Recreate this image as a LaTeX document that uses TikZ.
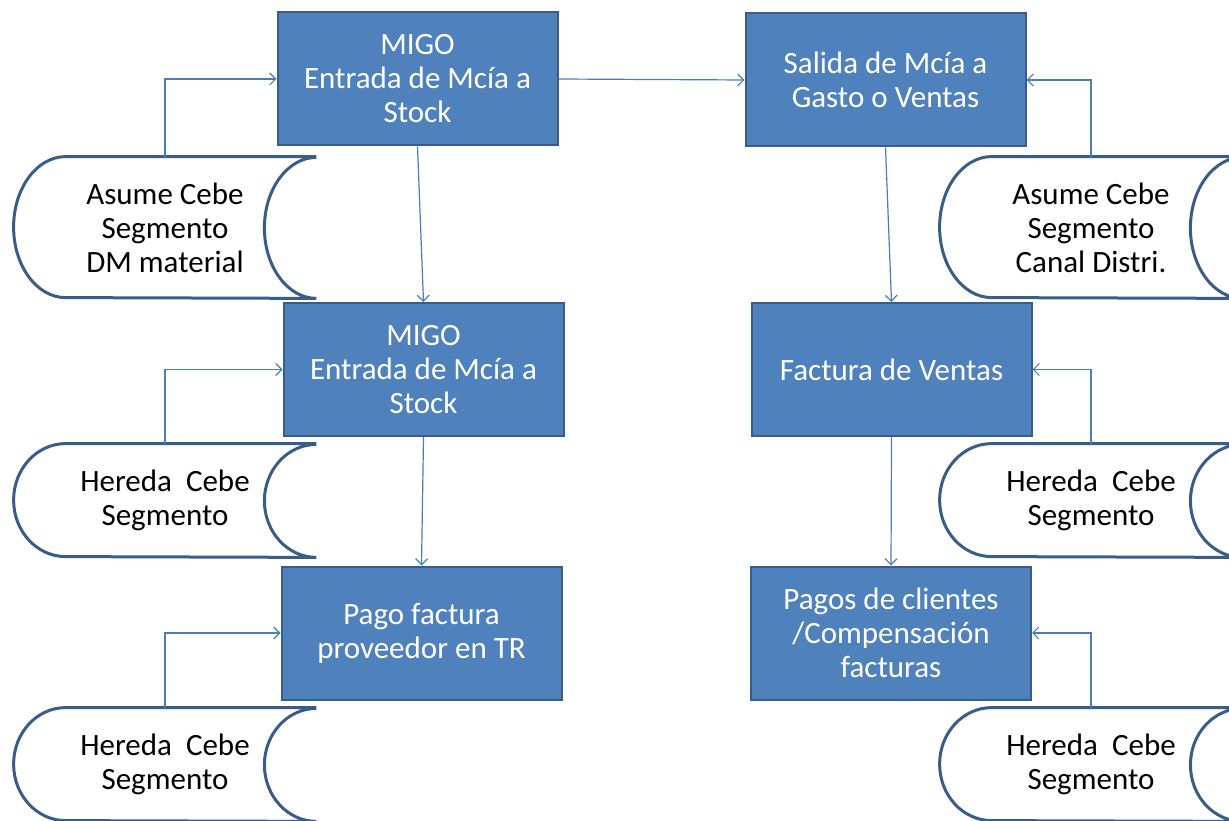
\documentclass[tikz,border=0pt]{standalone}
\usepackage{fontspec}
\setmainfont{Carlito}
\usepackage{xcolor}
\usetikzlibrary{arrows.meta, positioning, calc}

\definecolor{boxblue}{HTML}{4F81BD}
\definecolor{boxedge}{HTML}{385D8A}
\definecolor{linkblue}{HTML}{4A7EBB}

\begin{document}
\begin{tikzpicture}[x=0.5pt, y=0.5pt,
    box/.style={rectangle, draw=boxedge, line width=1pt, fill=boxblue,
      text=white, align=center, minimum width=140pt, minimum height=66.5pt,
      font=\fontsize{15.5}{17}\selectfont},
    store/.style={rectangle, inner sep=0pt, minimum width=151pt,
      align=center, font=\fontsize{15.5}{17}\selectfont},
    storeline/.style={draw=boxedge, line width=1.5pt},
    link/.style={draw=linkblue, line width=0.6pt,
      -{Straight Barb[length=3pt, width=6pt]}}]
  \useasboundingbox (0,0) rectangle (1229,820);
  \clip (0,0) rectangle (1229,820);

  % process boxes
  \node[box] (migo1) at (417.5,741) {MIGO\\Entrada de Mcía a\\Stock};
  \node[box] (migo2) at (423.5,450.5) {MIGO\\Entrada de Mcía a\\Stock};
  \node[box] (pago) at (421.5,187) {Pago factura\\proveedor en TR};
  \node[box] (salida) at (885.5,740) {Salida de Mcía a\\Gasto o Ventas};
  \node[box] (factura) at (891.5,450.5) {Factura de Ventas};
  \node[box] (cobro) at (891,187) {Pagos de clientes\\/Compensación\\facturas};

  % stored data
  \node[store, minimum height=70.5pt] (asume1) at (165,592.5) {Asume Cebe\\Segmento\\DM material};
  \node[store, minimum height=56.5pt] (hereda1) at (165,319.5) {Hereda~~Cebe\\Segmento};
  \node[store, minimum height=56.5pt] (hereda2) at (165,55.5) {Hereda~~Cebe\\Segmento};
  \node[store, minimum height=70.5pt] (asume2) at (1091,592.5) {Asume Cebe\\Segmento\\Canal Distri.};
  \node[store, minimum height=56.5pt] (hereda3) at (1091,319.5) {Hereda~~Cebe\\Segmento};
  \node[store, minimum height=56.5pt] (hereda4) at (1091,55.5) {Hereda~~Cebe\\Segmento};

  \foreach \s/\h in {asume1/35.25, hereda1/28.25, hereda2/28.25,
                     asume2/35.25, hereda3/28.25, hereda4/28.25} {
    \draw[storeline] (\s.north east) -- ([xshift=26pt]\s.north west)
      arc[start angle=90, end angle=270, x radius=26pt, y radius=\h pt]
      -- (\s.south east)
      arc[start angle=-90, end angle=-270, x radius=26pt, y radius=\h pt];
  }

  % flow
  \draw[link] (migo1.east) -- (salida.west);
  \draw[link] (migo1.south) -- (migo2.north);
  \draw[link] (migo2.south) -- (pago.north);
  \draw[link] (salida.south) -- (factura.north);
  \draw[link] (factura.south) -- (cobro.north);

  \draw[link] (asume1.north) |- (migo1.west);
  \draw[link] (hereda1.north) |- (migo2.west);
  \draw[link] (hereda2.north) |- (pago.west);
  \draw[link] (asume2.north) |- (salida.east);
  \draw[link] (hereda3.north) |- (factura.east);
  \draw[link] (hereda4.north) |- (cobro.east);
\end{tikzpicture}
\end{document}
